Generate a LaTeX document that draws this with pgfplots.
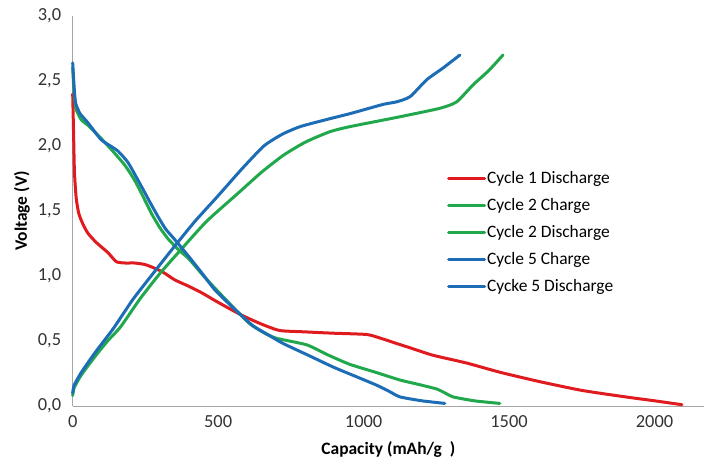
\documentclass[border=0pt]{standalone}
\usepackage{pgfplots}
\pgfplotsset{compat=1.18}
\usepackage{fontspec}
\setmainfont{Carlito}
\definecolor{cred}{HTML}{E01B1F}
\definecolor{cgreen}{HTML}{22A84C}
\definecolor{cblue}{HTML}{1C6DB5}
\begin{document}
\begin{tikzpicture}
\useasboundingbox (-72.7bp,-56bp) rectangle (636.3bp,406bp);
\begin{axis}[
  scale only axis,
  width=631.3bp, height=390bp,
  xmin=0, xmax=2170, ymin=0, ymax=3,
  axis x line=bottom, axis y line=left,
  axis line style={draw=gray!70, line width=0.8bp, -},
  xtick={0,500,1000,1500,2000},
  ytick={0,0.5,1,1.5,2,2.5,3},
  major tick length=0pt,
  /pgf/number format/assume math mode=true,
  xticklabel style={/pgf/number format/1000 sep={}, font=\fontsize{18.5}{20}\selectfont, text=black!80, yshift=-6bp},
  yticklabel style={/pgf/number format/.cd, fixed, fixed zerofill, precision=1, use comma, /tikz/.cd, font=\fontsize{18.5}{20}\selectfont, text=black!80, xshift=-8bp},
  xlabel={\textbf{Capacity (mAh/g\ \ )}},
  ylabel={\textbf{Voltage (V)}},
  xlabel style={font=\fontsize{17.5}{19}\selectfont, at={(axis description cs:0.5,0)}, anchor=center, yshift=-44bp},
  ylabel style={font=\fontsize{17.5}{19}\selectfont, at={(axis description cs:-0.0803,0.5)}, anchor=center},
  legend style={at={(0.588,0.61)}, anchor=north west, draw=none, fill=none,
    font=\fontsize{17.5}{19}\selectfont, row sep=10bp,
    nodes={inner sep=1bp, text height=12bp, text depth=3bp}},
  legend cell align=left,
  legend image code/.code={\draw[#1] (0bp,0bp) -- (36bp,0bp);},
  every axis plot/.append style={line width=3bp, line join=round, line cap=round, smooth, tension=0.35},
  clip=false,
]
\addplot[cred] coordinates {(0,2.40) (3,2.1) (6,1.8) (12,1.6) (21,1.48) (35,1.40) (52,1.33) (80,1.26) (121,1.18) (150,1.11) (180,1.10) (212,1.10) (245,1.09) (271,1.07) (310,1.03) (351,0.97) (400,0.92) (444,0.87) (490,0.81) (538,0.75) (580,0.70) (618,0.66) (660,0.62) (713,0.58) (800,0.57) (895,0.56) (1011,0.55) (1060,0.52) (1101,0.49) (1170,0.44) (1239,0.39) (1355,0.33) (1468,0.26) (1600,0.19) (1750,0.12) (1900,0.07) (2000,0.04) (2094,0.01)};
\addlegendentry{Cycle 1 Discharge}
\addplot[cgreen] coordinates {(0,0.08) (5,0.14) (30,0.24) (80,0.39) (120,0.50) (165,0.61) (230,0.82) (300,1.02) (371,1.20) (460,1.42) (565,1.63) (650,1.80) (725,1.93) (800,2.03) (884,2.11) (955,2.15) (1114,2.22) (1262,2.29) (1320,2.34) (1376,2.47) (1430,2.58) (1479,2.70)};
\addlegendentry{Cycle 2 Charge}
\addplot[cgreen] coordinates {(0,2.60) (5,2.40) (12,2.28) (30,2.20) (52,2.16) (97,2.06) (142,1.95) (180,1.85) (212,1.74) (240,1.62) (271,1.48) (300,1.37) (330,1.28) (365,1.20) (400,1.13) (450,1.00) (500,0.88) (560,0.74) (610,0.63) (660,0.56) (702,0.52) (805,0.47) (880,0.39) (953,0.32) (1040,0.26) (1125,0.20) (1200,0.16) (1252,0.13) (1280,0.10) (1307,0.07) (1380,0.04) (1468,0.02)};
\addlegendentry{Cycle 2 Discharge}
\addplot[cblue] coordinates {(0,0.10) (5,0.16) (30,0.26) (80,0.42) (141,0.60) (207,0.82) (280,1.03) (347,1.22) (420,1.42) (497,1.61) (580,1.82) (657,2.00) (720,2.09) (783,2.15) (884,2.21) (955,2.25) (1067,2.32) (1114,2.34) (1160,2.38) (1217,2.51) (1273,2.60) (1331,2.70)};
\addlegendentry{Cycle 5 Charge}
\addplot[cblue] coordinates {(0,2.64) (5,2.45) (10,2.33) (25,2.25) (52,2.18) (97,2.05) (130,2.00) (156,1.96) (191,1.87) (236,1.69) (265,1.57) (295,1.45) (320,1.36) (351,1.28) (399,1.15) (445,1.02) (490,0.89) (559,0.74) (618,0.62) (670,0.55) (724,0.48) (810,0.39) (895,0.30) (970,0.23) (1045,0.16) (1090,0.11) (1125,0.07) (1200,0.04) (1279,0.02)};
\addlegendentry{Cycke 5 Discharge}
\end{axis}
\end{tikzpicture}
\end{document}
